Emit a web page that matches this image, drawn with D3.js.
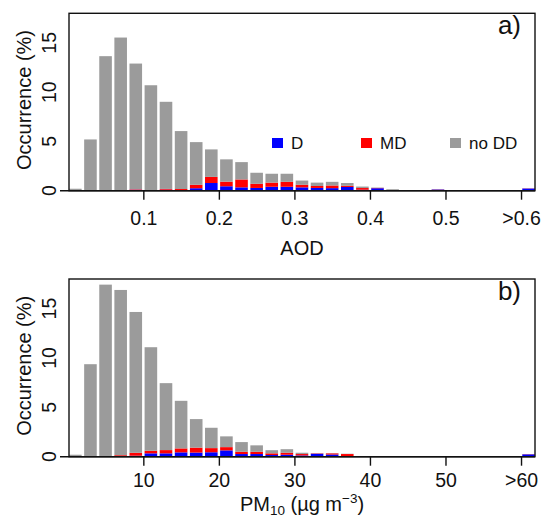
<!DOCTYPE html>
<html>
<head>
<meta charset="utf-8">
<script src="https://cdn.jsdelivr.net/npm/d3@7"></script>
<style>
  body { margin: 0; background: #fff; }
  svg text { font-family: "Liberation Sans", Arial, sans-serif; fill: #111; }
</style>
</head>
<body>
<div id="mainbox"></div>
<script>
// series order, bottom to top of each stacked bar
const seriesNames = ['D', 'MD', 'no DD'];
const seriesColors = ['#0000ff', '#ff0000', '#9b9b9b'];

// a) AOD, bins of 0.02 (last bin = >0.6)
const aodD    = [0,0,0,0,0.1,0.03,0.1,0.07,0.25,0.78,0.45,0.34,0.28,0.4,0.4,0.34,0.28,0.26,0.38,0.1,0.25,0,0,0,0.12,0,0,0,0,0,0.22];
const aodMD   = [0,0,0,0,0.05,0.03,0.08,0.1,0.35,0.62,0.47,0.8,0.42,0.42,0.5,0.26,0.2,0.27,0.12,0.17,0.03,0.02,0,0,0.02,0,0,0,0,0,0.02];
const aodNoDD = [0.2,5.2,13.65,15.54,12.75,10.64,8.84,5.88,4.33,2.79,2.26,1.76,1.12,0.9,0.82,0.43,0.34,0.37,0.28,0.15,0.04,0.13,0.05,0.03,0.01,0.03,0.02,0.02,0.02,0.02,0.01];
const aodTicks  = [0.1, 0.2, 0.3, 0.4, 0.5, 0.6];
const aodLabels = ['0.1', '0.2', '0.3', '0.4', '0.5', '>0.6'];

// b) PM10, bins of 2 ug/m3 (last bin = >60)
const pmD    = [0,0,0,0.03,0.1,0.34,0.34,0.44,0.42,0.45,0.64,0.27,0.27,0.17,0.2,0.13,0.3,0.22,0.05,0,0,0,0,0,0,0,0,0,0,0,0.24];
const pmMD   = [0,0,0.03,0.12,0.3,0.26,0.33,0.4,0.5,0.42,0.33,0.23,0.23,0.17,0.2,0.14,0.04,0.12,0.22,0.03,0,0,0,0,0,0,0,0,0,0,0.02];
const pmNoDD = [0.2,9.37,17.4,16.74,14.26,10.49,6.78,4.82,2.89,2.06,1.09,0.98,0.65,0.32,0.36,0.13,0.02,0.02,0.03,0.02,0.03,0.03,0.02,0.02,0.02,0.02,0.02,0.02,0.02,0.02,0.01];
const pmTicks  = [10, 20, 30, 40, 50, 60];
const pmLabels = ['10', '20', '30', '40', '50', '>60'];

const yTicks = [0, 5, 10, 15];

const svg = d3.select('#mainbox').append('svg')
  .attr('width', 543).attr('height', 520);

const panels = [
  {D: aodD, MD: aodMD, noDD: aodNoDD, binW: 0.02, ticks: aodTicks, labels: aodLabels,
   top: 13.3, bottom: 190.7, tag: 'a)', legend: true, tickY: 225.5},
  {D: pmD, MD: pmMD, noDD: pmNoDD, binW: 2, ticks: pmTicks, labels: pmLabels,
   top: 279, bottom: 456.7, tag: 'b)', legend: false, tickY: 487}
];

const left = 69, right = 535;

panels.forEach((p, k) => {
  const n = p.noDD.length;
  const x = d3.scaleLinear()
    .domain([0.08 * p.binW, (n - 0.075) * p.binW])
    .range([left, right]);
  const y = d3.scaleLinear().domain([0, 18]).range([p.bottom, p.top]);
  const gap = (x(p.binW) - x(0)) / 6;

  const rows = d3.range(n).map(i => ({i: i, D: p.D[i], MD: p.MD[i], noDD: p.noDD[i]}));
  const stack = d3.stack().keys(['D', 'MD', 'noDD'])(rows);

  const g = svg.append('g');

  g.selectAll('.layer')
    .data(stack)
    .enter().append('g')
    .attr('class', 'layer')
    .attr('fill', (d, j) => seriesColors[j])
    .selectAll('rect')
    .data(d => d)
    .enter().append('rect')
    .attr('x', d => x(d.data.i * p.binW) + gap / 2)
    .attr('width', d => x((d.data.i + 1) * p.binW) - x(d.data.i * p.binW) - gap)
    .attr('y', d => y(d[1]))
    .attr('height', d => Math.max(0, y(d[0]) - y(d[1])));

  // frame
  g.append('rect')
    .attr('x', left).attr('y', p.top)
    .attr('width', right - left).attr('height', p.bottom - p.top)
    .attr('fill', 'none').attr('stroke', '#111').attr('stroke-width', 1.4);
  g.append('line')
    .attr('x1', 60).attr('x2', right)
    .attr('y1', p.bottom).attr('y2', p.bottom)
    .attr('stroke', '#111').attr('stroke-width', 1.4);

  // x axis
  const axisX = d3.axisBottom(x)
    .tickValues(p.ticks)
    .tickFormat((d, j) => p.labels[j])
    .tickSize(9)
    .tickSizeOuter(0);
  const ax = g.append('g')
    .attr('transform', `translate(0,${p.bottom})`)
    .call(axisX);
  ax.select('.domain').remove();
  ax.selectAll('line').attr('stroke', '#111').attr('stroke-width', 1.4);
  ax.selectAll('text')
    .attr('y', p.tickY - p.bottom).attr('dy', 0)
    .style('font-size', '19.5px')
    .style('font-family', '"Liberation Sans", Arial, sans-serif')
    .attr('fill', '#111');

  // y tick labels (R style, parallel to the axis)
  g.selectAll('.ylab')
    .data(yTicks)
    .enter().append('text')
    .attr('class', 'ylab')
    .attr('transform', d => `translate(55.5,${y(d)}) rotate(-90)`)
    .attr('text-anchor', 'middle')
    .style('font-size', '19.5px')
    .text(d => d);

  // y title
  g.append('text')
    .attr('transform', `translate(31,${(p.top + p.bottom) / 2 - 2}) rotate(-90)`)
    .attr('text-anchor', 'middle')
    .style('font-size', '20px')
    .text('Occurrence (%)');

  // panel tag
  g.append('text')
    .attr('x', 521).attr('y', p.top + 21)
    .attr('text-anchor', 'end')
    .style('font-size', '26px')
    .text(p.tag);

  if (p.legend) {
    const legX = [272, 361, 450];
    const lg = g.selectAll('.leg')
      .data(seriesNames)
      .enter().append('g')
      .attr('class', 'leg')
      .attr('transform', (d, j) => `translate(${legX[j]},138)`);
    lg.append('rect')
      .attr('width', 11).attr('height', 10)
      .attr('fill', (d, j) => seriesColors[j]);
    lg.append('text')
      .attr('x', 19).attr('y', 10.5)
      .style('font-size', '17px')
      .text(d => d);
  }
});

// x titles
svg.append('text')
  .attr('x', 302).attr('y', 255)
  .attr('text-anchor', 'middle')
  .style('font-size', '20px')
  .text('AOD');

const pmTitle = svg.append('text')
  .attr('x', 302).attr('y', 511)
  .attr('text-anchor', 'middle')
  .style('font-size', '20px');
pmTitle.append('tspan').text('PM');
pmTitle.append('tspan').attr('dy', 4).style('font-size', '13.5px').text('10');
pmTitle.append('tspan').attr('dy', -4).text(' (µg m');
pmTitle.append('tspan').attr('dy', -8).style('font-size', '13.5px').text('−3');
pmTitle.append('tspan').attr('dy', 8).text(')');
</script>
</body>
</html>
